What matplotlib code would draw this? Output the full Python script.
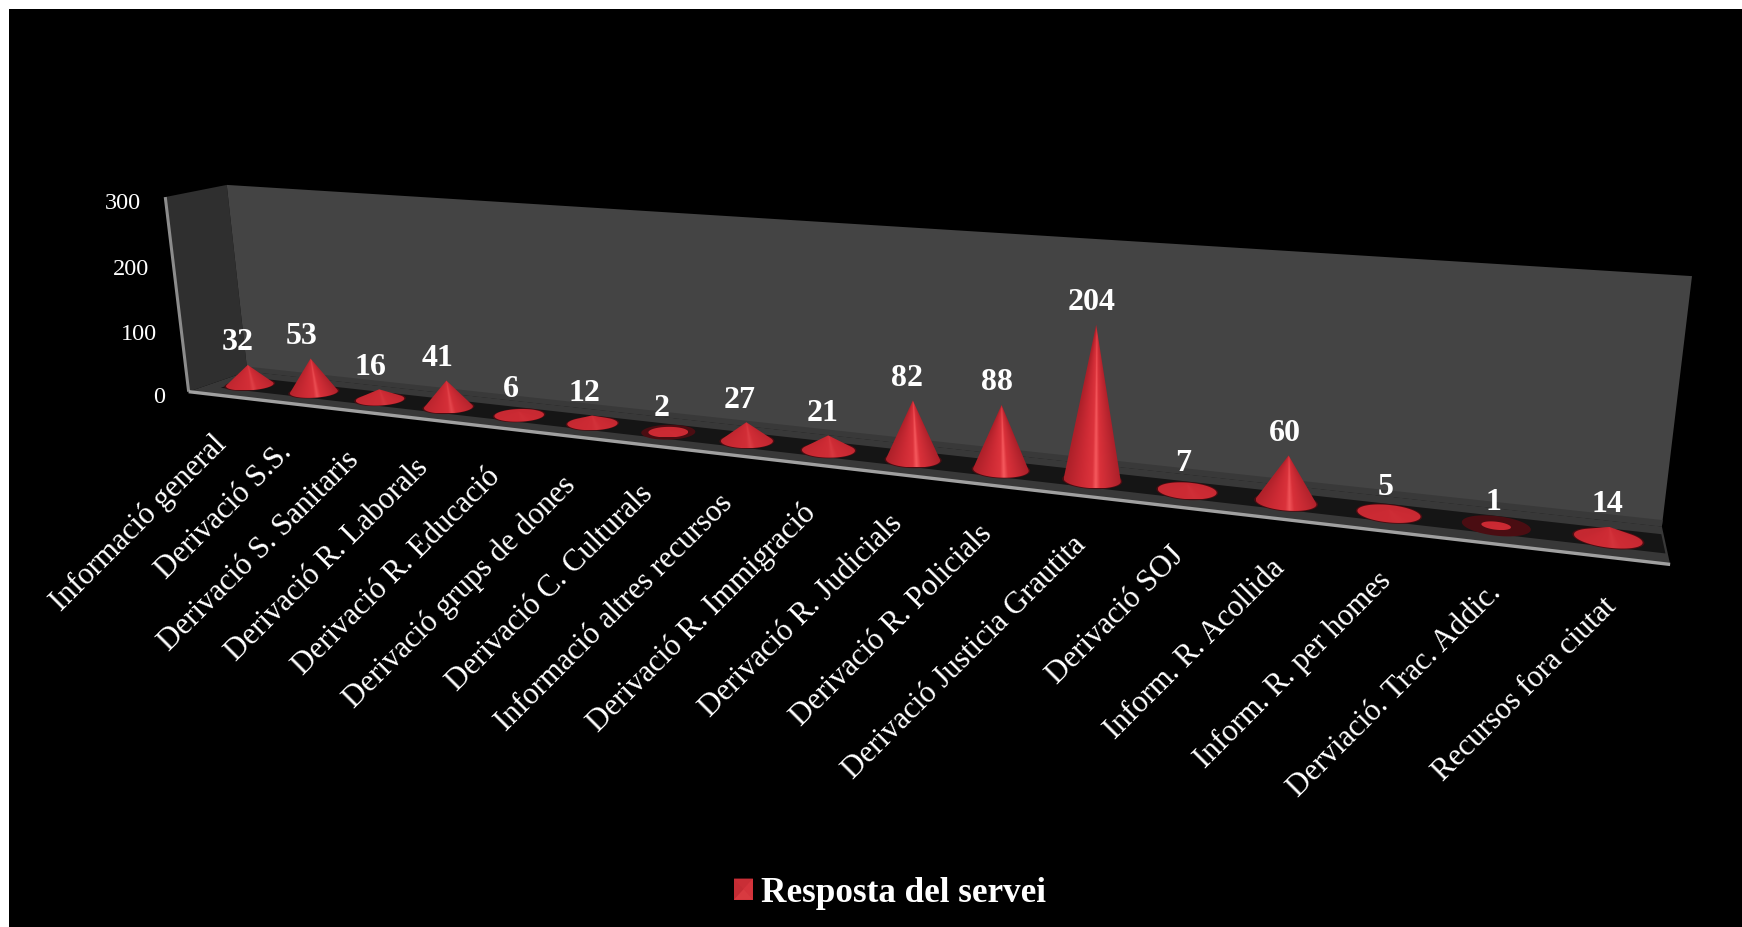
import numpy as np
import matplotlib
matplotlib.use("Agg")
import matplotlib.pyplot as plt
from matplotlib.colors import to_rgb
from matplotlib.patches import Polygon, Patch

categories = ["Informació general", "Derivació S.S.", "Derivació S. Sanitaris", "Derivació R. Laborals",
              "Derivació R. Educació", "Derivació grups de dones", "Derivació C. Culturals",
              "Informació altres recursos", "Derivació R. Immigració", "Derivació R. Judicials",
              "Derivació R. Policials", "Derivació Justicia Grautita", "Derivació SOJ", "Inform. R. Acollida",
              "Inform. R. per homes", "Derviació. Trac. Addic.", "Recursos fora ciutat"]
values = [32, 53, 16, 41, 6, 12, 2, 27, 21, 82, 88, 204, 7, 60, 5, 1, 14]
y_ticks = [0, 100, 200, 300]
series_name = "Resposta del servei"

plt.rcParams['font.family'] = ['Liberation Serif', 'DejaVu Serif']
W, H = 1742, 928
fig = plt.figure(figsize=(W / 100, H / 100), dpi=100, facecolor='white')
ax = fig.add_axes([9 / W, 0, (W - 9) / W, (H - 10) / H])
ax.set_facecolor('black')
ax.set_axis_off()
ax.add_patch(plt.Rectangle((9, 10), W, H, fc='black', ec='none', zorder=0))

# perspective camera: (category position, depth, value) -> picture position
n = len(categories)
ref = [((0, 0, 0), (189, 394)), ((0, 0, 300), (165, 197)), ((0, 1, 0), (247, 371)), ((0, 1, 300), (227, 187)),
       ((n, 1, 0), (1662, 528)), ((n, 1, 300), (1692, 277)), ((n, 0, 0), (1670, 565))]
rows = []
for (t, d, v), (px, py) in ref:
    X = [t / n, d, v / 300, 1]
    rows.append(X + [0, 0, 0, 0] + [-px * c for c in X])
    rows.append([0, 0, 0, 0] + X + [-py * c for c in X])
P = np.linalg.svd(np.array(rows, float))[2][-1].reshape(3, 4)


def project(t, d, v):
    t, d, v = np.broadcast_arrays(np.asarray(t, float), np.asarray(d, float), np.asarray(v, float))
    X = np.stack([t / n, d, v / 300, np.ones_like(t)], axis=0)
    q = P @ X.reshape(4, -1)
    return (q[0] / q[2]).reshape(t.shape), (q[1] / q[2]).reshape(t.shape)


def quad(a, b, color, z):
    pts = [np.array(project(*p)).ravel() for p in (*a, *b)]
    ax.add_patch(Polygon(pts, closed=True, fc=color, ec='none', zorder=z))


# walls and floor
quad([(0, 0, 0), (0, 1, 0)], [(0, 1, 300), (0, 0, 300)], '#2f2f2f', 1)
quad([(0, 1, 0), (n, 1, 0)], [(n, 1, 300), (0, 1, 300)], '#444444', 1)
quad([(0, 1, 0), (n, 1, 0)], [(n, 1, 8), (0, 1, 8)], '#393939', 2)
quad([(0, 0, 0), (n, 0, 0)], [(n, 1, 0), (0, 1, 0)], '#383838', 2)
quad([(0.25, 0.27, 0), (n - 0.02, 0.27, 0)], [(n - 0.02, 0.78, 0), (0.25, 0.78, 0)], '#151515', 3)
lx, ly = project([0, 0], [0, 0], [300, 0])
ax.plot(lx, ly, color='#8c8c8c', lw=2.2, zorder=4, solid_capstyle='butt')
lx, ly = project([0, n], [0, 0], [0, 0])
ax.plot(lx, ly, color='#a0a0a0', lw=2.4, zorder=4, solid_capstyle='butt')

# value axis labels
for v in y_ticks:
    x, y = project(0, 0, v)
    ax.text(x - 24, y + 5, str(v), color='white', fontsize=17.5, ha='right', va='center', zorder=6)


def hull(pts):
    pts = sorted(map(tuple, pts))
    def half(seq):
        out = []
        for p in seq:
            while len(out) > 1 and ((out[-1][0] - out[-2][0]) * (p[1] - out[-2][1])
                                    - (out[-1][1] - out[-2][1]) * (p[0] - out[-2][0])) <= 0:
                out.pop()
            out.append(p)
        return out[:-1]
    return half(pts) + half(pts[::-1])


flat = np.array(to_rgb('#cb2a33'))
s_pos = [-1, -.4, -.02, .1, .24, 1]
s_col = ['#ac2029', '#cc2a34', '#dc333c', '#f65a5e', '#da313a', '#a81f29']
s_rgb = np.array([to_rgb(c) for c in s_col])
ang = np.linspace(0, 2 * np.pi, 72, endpoint=False)
R_T, R_D = 0.30, 0.25

for i, val in enumerate(values):
    tc = i + 0.5
    # shadow on the floor
    sx, sy = project(tc + R_T * 1.05 * np.cos(ang), 0.5 + R_D * 1.1 * np.sin(ang), 0)
    ax.add_patch(Polygon(np.c_[sx, sy], fc='#4a0d12', ec='none', zorder=5))
    k = {1: 0.45, 2: 0.78}.get(val, 1.0)
    ex, ey = project(tc + R_T * k * np.cos(ang), 0.5 + R_D * k * np.sin(ang), 0)
    tx, ty = project(tc, 0.5, val)
    tx, ty = float(tx), float(ty)
    outline = hull(list(zip(ex, ey)) + [(tx, ty)])
    poly = Polygon(outline, closed=True, fc='none', ec='none', transform=ax.transData)
    ax.add_patch(poly)
    xs = np.array([p[0] for p in outline])
    ys = np.array([p[1] for p in outline])
    # shading converges on the apex of the cone
    gx, gy = np.meshgrid(np.linspace(xs.min(), xs.max(), 160), np.linspace(ys.min(), ys.max(), 160))
    hw = (xs.max() - xs.min()) / 2
    depth = np.clip((gy - ty) / max(ey.mean() - ty, 1), 1e-3, None)
    bx = ex.mean()
    u = (gx - (tx + (bx - tx) * depth)) / (hw * depth)
    u = np.clip(u, -1, 1)
    shade = np.stack([np.interp(u, s_pos, s_rgb[:, c]) for c in range(3)], axis=-1)
    blend = min(val / 70, 1.0)
    img = flat + (shade - flat) * blend
    im = ax.imshow(img, extent=(xs.min(), xs.max(), ys.max(), ys.min()), aspect='auto', zorder=5.5,
                   interpolation='bilinear')
    im.set_clip_path(poly)
    # value label
    ax.text(tx - 10 + 8 * tc / n, ty - 23, str(val), color='white', fontsize=23, fontweight='bold',
            ha='center', va='center', zorder=7)
    # category label
    fx, fy = project(tc, 0, 0)
    ax.text(float(fx) + 2, float(fy) + 44, categories[i], color='white', fontsize=22.2, rotation=45,
            rotation_mode='anchor', ha='right', va='center', zorder=7)

ax.set_xlim(9, W)
ax.set_ylim(H, 10)

leg = ax.legend(handles=[Patch(fc='#d0323a', ec='none', label=series_name)], loc='center left',
                bbox_to_anchor=(734, 894), bbox_transform=ax.transData, frameon=False, labelcolor='white',
                prop={'family': 'Liberation Serif', 'weight': 'bold', 'size': 25.3}, handlelength=0.54,
                handleheight=0.54, handletextpad=0.24, borderpad=0, borderaxespad=0)

# faceted legend key
fig.canvas.draw()
bb = leg.get_patches()[0].get_window_extent().transformed(ax.transData.inverted())
x0, x1 = bb.x0, bb.x1
y0, y1 = min(bb.y0, bb.y1), max(bb.y0, bb.y1)
cx, cy = (x0 + x1) / 2, (y0 + y1) / 2
facets = [([(x0, y0), (x1, y0)], '#c92e36'), ([(x1, y0), (x1, y1)], '#d4343c'),
          ([(x1, y1), (x0, y1)], '#d83a40'), ([(x0, y1), (x0, y0)], '#c42c34')]
for edge, col in facets:
    ax.add_patch(Polygon(edge + [(cx, cy)], closed=True, fc=col, ec='none', zorder=8))

fig.savefig('out.png', dpi=100, facecolor='white')
